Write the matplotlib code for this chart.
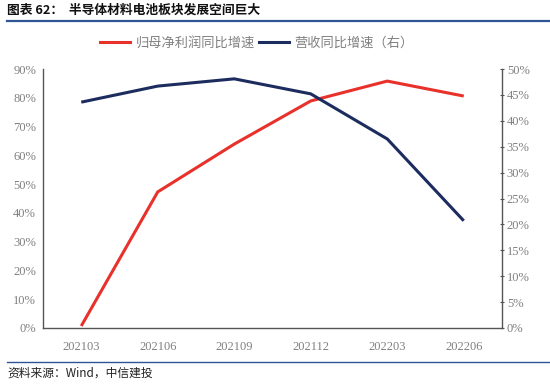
import matplotlib
matplotlib.use("Agg")
import matplotlib.pyplot as plt
from matplotlib.lines import Line2D
from matplotlib.ticker import FuncFormatter, MultipleLocator

categories = ["202103", "202106", "202109", "202112", "202203", "202206"]
profit_growth = [0.7, 47.3, 63.9, 78.9, 85.8, 80.6]     # left axis, %
revenue_growth = [43.6, 46.7, 48.1, 45.2, 36.5, 20.7]   # right axis, %

title = "图表 62：  半导体材料电池板块发展空间巨大"
source = "资料来源：Wind，中信建投"
label_profit = "归母净利润同比增速"
label_revenue = "营收同比增速（右）"

plt.rcParams['font.family'] = ['Noto Sans CJK SC', 'DejaVu Sans']
red = "#E8312A"
navy = "#1C2C5E"
grey = "#808080"
tickfont = ['Liberation Serif', 'Noto Sans CJK SC']

fig = plt.figure(figsize=(5.5, 3.87), dpi=100)
ax = fig.add_axes([43/550, 1-328/387, (502-43)/550, (328-69)/387])
ax2 = ax.twinx()

x = list(range(len(categories)))
ax.plot(x, profit_growth, color=red, lw=2.2, solid_capstyle='butt')
ax2.plot(x, revenue_growth, color=navy, lw=2.2, solid_capstyle='butt')

ax.set_xlim(-0.5, len(categories)-0.5)
ax.set_ylim(0, 90)
ax2.set_ylim(0, 50)
ax.yaxis.set_major_locator(MultipleLocator(10))
ax2.yaxis.set_major_locator(MultipleLocator(5))
fmt = FuncFormatter(lambda v, p: f"{v:.0f}%")
ax.yaxis.set_major_formatter(fmt)
ax2.yaxis.set_major_formatter(fmt)
ax.set_xticks(x)
ax.set_xticklabels(categories)

for a in (ax, ax2):
    a.spines['top'].set_visible(False)
    for s in a.spines.values():
        s.set_color("#555555")
        s.set_linewidth(1.0)
ax.spines['right'].set_visible(False)
ax2.spines['left'].set_visible(False)
ax2.spines['bottom'].set_visible(False)

ax.tick_params(axis='y', length=0, pad=5, labelcolor=grey, labelsize=9)
ax.tick_params(axis='x', length=0, pad=9, labelcolor=grey, labelsize=9)
ax2.tick_params(axis='y', length=3, direction='inout', color="#555555", pad=2, labelcolor=grey, labelsize=9)
for lab in ax.get_yticklabels() + ax.get_xticklabels() + ax2.get_yticklabels():
    lab.set_family(tickfont)

# title and rules
fig.text(7/550, 1-10/387, title, fontsize=9.2, fontweight='bold', va='center', ha='left', color="#111111")
fig.add_artist(Line2D([7/550, 1.0], [1-21/387, 1-21/387], color="#2F5597", lw=1.6))
fig.add_artist(Line2D([7/550, 1.0], [1-362/387, 1-362/387], color="#2F5597", lw=1.0))
fig.text(7/550, 1-373/387, source, fontsize=8.5, style='italic', va='center', ha='left', color="#222222")

handles = [Line2D([], [], color=red, lw=2.2), Line2D([], [], color=navy, lw=2.2)]
fig.legend(handles, [label_profit, label_revenue], loc='center', bbox_to_anchor=(257/550, 1-43/387),
           ncol=2, frameon=False, fontsize=9.5, handlelength=2.3, handletextpad=0.4, columnspacing=0.3,
           labelcolor=grey)

fig.savefig("out.png", dpi=100)
